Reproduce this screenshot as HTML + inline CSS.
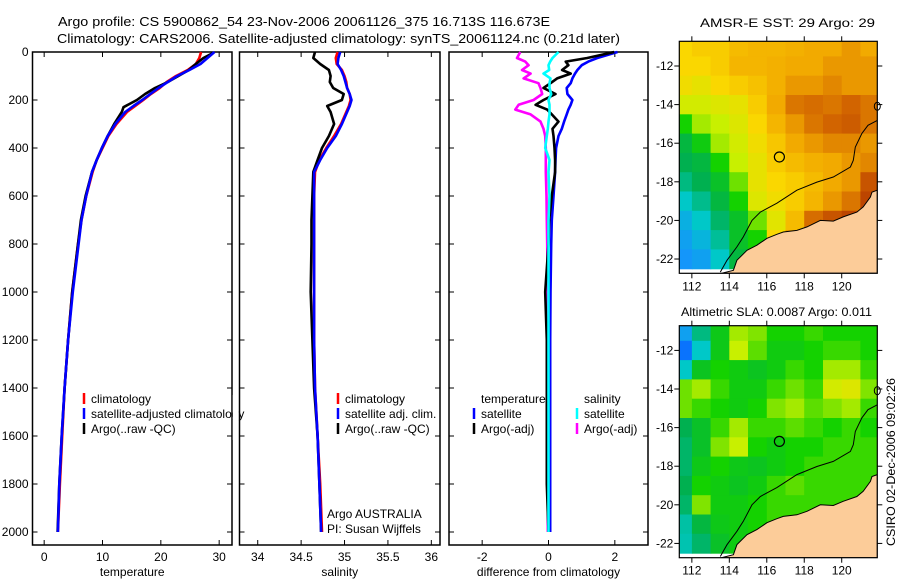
<!DOCTYPE html>
<html><head><meta charset="utf-8">
<style>
body{margin:0;background:#fff;}
svg{display:block;font-family:"Liberation Sans",sans-serif;}
text{font-size:12px;fill:#000;}
</style></head>
<body>
<svg id="fig" width="900" height="580" viewBox="0 0 900 580" xmlns="http://www.w3.org/2000/svg">
<text x="58" y="26" textLength="492" lengthAdjust="spacingAndGlyphs" style="font-size:13px">Argo profile: CS 5900862_54 23-Nov-2006 20061126_375 16.713S 116.673E</text>
<text x="57" y="43" textLength="563" lengthAdjust="spacingAndGlyphs" style="font-size:13px">Climatology: CARS2006. Satellite-adjusted climatology: synTS_20061124.nc (0.21d later)</text>
<text x="700" y="27" textLength="175" lengthAdjust="spacingAndGlyphs">AMSR-E SST: 29 Argo: 29</text>
<text x="681" y="316" textLength="191" lengthAdjust="spacingAndGlyphs">Altimetric SLA: 0.0087 Argo: 0.011</text>
<text transform="translate(895,462) rotate(-90)" text-anchor="middle" textLength="168" lengthAdjust="spacingAndGlyphs">CSIRO 02-Dec-2006 09:02:26</text>
<g id="plots"></g>
</svg>
<script>
// ---------- profile data ----------
const depthT = [0,25,50,75,100,125,150,175,200,225,250,300,350,400,450,500,600,700,800,1000,1200,1400,1600,1800,2000];
const tempClim = [26.9,26.6,26.0,24.6,22.6,21.0,19.8,18.3,17.0,15.6,14.2,12.4,11.0,10.0,9.0,8.3,7.2,6.4,5.8,4.8,4.1,3.5,3.1,2.7,2.35];
const tempSat  = [29.2,28.0,26.8,24.9,22.8,21.2,19.6,18.2,16.8,15.3,13.9,12.2,10.9,9.9,9.0,8.2,7.2,6.4,5.9,4.9,4.1,3.5,3.0,2.6,2.35];
const depthA = [5,25,50,75,100,125,150,175,200,230,250,300,350,400,450,500,600,700,800,1000,1200,1400,1600,1800,2000];
const tempArgo = [28.9,27.3,26.0,24.8,23.0,21.2,19.0,17.3,15.9,13.6,13.3,12.0,10.9,9.9,9.0,8.2,7.1,6.3,5.8,4.8,4.1,3.5,3.0,2.6,2.3];
const salClim = [34.92,34.90,34.91,34.97,35.00,35.02,35.03,35.06,35.07,35.05,35.02,34.96,34.88,34.79,34.71,34.66,34.65,34.65,34.65,34.65,34.65,34.66,34.69,34.72,34.74];
const salSat  = [34.95,34.93,34.92,34.96,34.99,35.01,35.03,35.06,35.08,35.06,35.03,34.97,34.90,34.80,34.72,34.65,34.65,34.65,34.65,34.65,34.65,34.66,34.69,34.71,34.73];
const salArgo = [34.66,34.64,34.72,34.82,34.84,34.83,34.87,34.99,34.97,34.80,34.84,34.88,34.82,34.74,34.69,34.64,34.63,34.62,34.62,34.61,34.63,34.65,34.69,34.71,34.73];
const depthD = [0,25,40,55,75,90,110,130,150,175,200,220,240,260,290,320,350,400,450,500,600,700,800,1000,1200,1400,1600,1800,2000];
const diffTSat  = [2.08,1.47,1.2,1.0,0.87,0.8,0.72,0.67,0.55,0.57,0.72,0.67,0.6,0.55,0.47,0.4,0.3,0.23,0.21,0.2,0.15,0.1,0.08,0.06,0.05,0.05,0.05,0.05,0.05];
const diffTArgo = [1.98,1.17,0.52,0.6,0.41,0.67,0.26,0.06,-0.15,0.21,-0.15,-0.39,-0.04,0.1,0.3,0.12,0.15,0.18,0.2,0.2,0.1,0.02,0.0,-0.1,-0.05,-0.05,-0.05,-0.05,0.0];
const diffSSat  = [0.3,0.12,0.05,0.0,0.02,-0.15,0.06,0.03,0.03,0.08,0.0,0.03,0.03,0.03,0.0,-0.02,-0.05,-0.1,0.03,0.0,0.03,0.0,0.0,0.0,0.0,0.0,0.0,0.0,0.0];
const diffSArgo = [-0.85,-0.95,-0.7,-0.6,-0.8,-0.54,-0.75,-0.3,-0.24,-0.19,-0.45,-0.9,-1.0,-0.54,-0.24,-0.15,-0.1,-0.08,-0.08,-0.08,-0.06,-0.05,-0.04,-0.02,-0.02,-0.02,-0.02,-0.02,-0.02];
const depthTicks = [0,200,400,600,800,1000,1200,1400,1600,1800,2000];
const tempTicks = [0,10,20,30];
const salTicks = [34,34.5,35,35.5,36];
const diffTicks = [-2,0,2];
// ---------- map data (1-degree cells, rows lat -11..-22, cols lon 111.5..121.5) ----------
const mapLats = [-11,-12,-13,-14,-15,-16,-17,-18,-19,-20,-21,-22];
const mapLons = [111.5,112.5,113.5,114.5,115.5,116.5,117.5,118.5,119.5,120.5,121.5];
const sstGrid = [
[0.70,0.72,0.72,0.75,0.76,0.76,0.77,0.78,0.78,0.80,0.78],
[0.70,0.70,0.72,0.76,0.76,0.77,0.78,0.78,0.80,0.80,0.80],
[0.68,0.66,0.70,0.72,0.74,0.77,0.80,0.80,0.82,0.80,0.80],
[0.62,0.62,0.64,0.66,0.72,0.78,0.84,0.85,0.84,0.86,0.84],
[0.50,0.58,0.60,0.64,0.70,0.76,0.80,0.84,0.86,0.87,0.84],
[0.42,0.48,0.58,0.62,0.68,0.73,0.78,0.80,0.82,0.82,0.80],
[0.40,0.42,0.50,0.60,0.66,0.72,0.75,0.77,0.78,0.80,0.82],
[0.36,0.40,0.45,0.55,0.66,0.70,0.72,0.75,0.78,0.80,0.88],
[0.30,0.35,0.42,0.50,0.64,0.68,0.72,0.76,0.80,0.84,0.90],
[0.25,0.30,0.38,0.45,0.55,0.65,0.75,0.85,0.88,0.90,0.90],
[0.22,0.26,0.34,0.45,0.50,0.70,0.80,0.88,0.90,0.90,0.90],
[0.20,0.22,0.30,0.42,0.50,0.70,0.80,0.88,0.90,0.90,0.90]];
const slaGrid = [
[0.22,0.36,0.47,0.58,0.56,0.50,0.50,0.52,0.50,0.50,0.50],
[0.15,0.30,0.47,0.60,0.54,0.48,0.48,0.50,0.52,0.52,0.50],
[0.30,0.46,0.50,0.48,0.46,0.48,0.52,0.50,0.58,0.58,0.52],
[0.55,0.58,0.52,0.48,0.48,0.52,0.55,0.52,0.62,0.64,0.56],
[0.55,0.52,0.50,0.48,0.50,0.56,0.58,0.54,0.56,0.58,0.52],
[0.40,0.45,0.52,0.58,0.52,0.52,0.54,0.52,0.50,0.52,0.50],
[0.38,0.45,0.56,0.60,0.50,0.48,0.50,0.50,0.52,0.52,0.52],
[0.38,0.47,0.50,0.47,0.46,0.48,0.50,0.52,0.52,0.52,0.52],
[0.40,0.50,0.48,0.46,0.48,0.52,0.54,0.52,0.52,0.52,0.52],
[0.38,0.56,0.48,0.48,0.50,0.52,0.52,0.52,0.52,0.52,0.52],
[0.33,0.42,0.47,0.48,0.50,0.52,0.52,0.52,0.52,0.52,0.52],
[0.32,0.38,0.45,0.48,0.50,0.52,0.52,0.52,0.52,0.52,0.52]];
const lonTicks = [112,114,116,118,120];
const latTicks = [-12,-14,-16,-18,-20,-22];
const argoLon = 116.673, argoLat = -16.713;

const NS = "http://www.w3.org/2000/svg";
const root = document.getElementById('plots');
function mk(tag, attrs, parent){const e=document.createElementNS(NS,tag);for(const k in attrs)e.setAttribute(k,attrs[k]);(parent||root).appendChild(e);return e;}

const Y0=52, Y1=545;
const yD = d => Y0 + d*0.24;

function panel(name, x0, x1, vmin, vmax, ticks, label, showY){
  const xs = v => x0 + (v-vmin)/(vmax-vmin)*(x1-x0);
  const g = mk('g',{});
  
  
  const r = mk('rect',{x:x0,y:Y0,width:x1-x0,height:Y1-Y0,fill:'none',stroke:'#000','stroke-width':1.5},g);
  
  
  ticks.forEach(t=>{
    const x=xs(t);
    mk('line',{x1:x,x2:x,y1:Y0,y2:Y0+5,stroke:'#000'},g);
    mk('line',{x1:x,x2:x,y1:Y1,y2:Y1-5,stroke:'#000'},g);
    const tl = mk('text',{x:x,y:Y1+16,'text-anchor':'middle'},g);
    tl.textContent = String(t);
    
    
  });
  depthTicks.forEach(d=>{
    const y=yD(d);
    mk('line',{x1:x0,x2:x0+5,y1:y,y2:y,stroke:'#000'},g);
    mk('line',{x1:x1,x2:x1-5,y1:y,y2:y,stroke:'#000'},g);
    if(showY){
      const tl = mk('text',{x:x0-4,y:y+4,'text-anchor':'end'},g);
      tl.textContent = String(d);
      
      
    }
  });
  const xl = mk('text',{x:(x0+x1)/2,y:576,'text-anchor':'middle'},g);
  xl.textContent = label;
  
  
  return {g, xs};
}
function line(p, depths, vals, color, name){
  const d = vals.map((v,i)=>(i?'L':'M')+p.xs(v).toFixed(1)+','+yD(depths[i]).toFixed(1)).join('');
  const e = mk('path',{d:d,fill:'none',stroke:color,'stroke-width':2.6,'stroke-linejoin':'round'},p.g);
  
  
}
function legendRow(g, bx, tx, y, color, txt, name){
  if(color){mk('line',{x1:bx,x2:bx,y1:y-10,y2:y+1,stroke:color,'stroke-width':2.5},g);}
  const t = mk('text',{x:tx,y:y},g);
  t.textContent = txt;
  
  
}

// temperature panel
const pT = panel('temperature-panel', 32.5, 232, -2, 32.2, tempTicks, 'temperature', true);
line(pT, depthT, tempClim, '#f00', 'temperature-climatology-line');
line(pT, depthA, tempArgo, '#000', 'temperature-argo-line');
line(pT, depthT, tempSat, '#00f', 'temperature-satellite-line');
legendRow(pT.g, 84, 91, 403, '#f00', 'climatology', 'legend-climatology');
legendRow(pT.g, 84, 91, 418, '#00f', 'satellite-adjusted climatology', 'legend-satellite-adjusted');
legendRow(pT.g, 84, 91, 433, '#000', 'Argo(..raw -QC)', 'legend-argo');
mk('rect',{x:232.8,y:395,width:6,height:45,fill:'#fff'});

// salinity panel
const pS = panel('salinity-panel', 239.5, 440, 33.79, 36.1, salTicks, 'salinity', false);
line(pS, depthT, salClim, '#f00', 'salinity-climatology-line');
line(pS, depthT, salArgo, '#000', 'salinity-argo-line');
line(pS, depthT, salSat, '#00f', 'salinity-satellite-line');
legendRow(pS.g, 338, 345, 403, '#f00', 'climatology', 'legend-sal-climatology');
legendRow(pS.g, 338, 345, 418, '#00f', 'satellite adj. clim.', 'legend-sal-satellite');
legendRow(pS.g, 338, 345, 433, '#000', 'Argo(..raw -QC)', 'legend-sal-argo');
legendRow(pS.g, 0, 327, 518, null, 'Argo AUSTRALIA', 'argo-australia-label');
legendRow(pS.g, 0, 327, 533, null, 'PI: Susan Wijffels', 'pi-label');

// difference panel
const pD = panel('difference-panel', 449, 648, -3.0, 3.0, diffTicks, 'difference from climatology', false);
line(pD, depthD, diffTSat, '#00f', 'diff-temperature-satellite-line');
line(pD, depthD, diffSArgo, '#f0f', 'diff-salinity-argo-line');
line(pD, depthD, diffTArgo, '#000', 'diff-temperature-argo-line');
line(pD, depthD, diffSSat, '#0ff', 'diff-salinity-satellite-line');
legendRow(pD.g, 0, 481, 403, null, 'temperature', 'legend-diff-temperature-header');
legendRow(pD.g, 0, 584, 403, null, 'salinity', 'legend-diff-salinity-header');
legendRow(pD.g, 474, 481, 418, '#00f', 'satellite', 'legend-diff-temp-satellite');
legendRow(pD.g, 474, 481, 433, '#000', 'Argo(-adj)', 'legend-diff-temp-argo');
legendRow(pD.g, 577, 584, 418, '#0ff', 'satellite', 'legend-diff-sal-satellite');
legendRow(pD.g, 577, 584, 433, '#f0f', 'Argo(-adj)', 'legend-diff-sal-argo');

// ---------- maps ----------
const stops = [[0.10,[0,80,255]],[0.20,[20,150,250]],[0.30,[0,200,200]],[0.40,[0,176,80]],[0.50,[20,210,0]],[0.60,[200,240,0]],[0.70,[250,215,0]],[0.78,[242,170,0]],[0.86,[210,100,0]],[0.95,[160,30,0]]];
function cmap(v){
  if(v<=stops[0][0]) return 'rgb('+stops[0][1]+')';
  for(let i=1;i<stops.length;i++){
    if(v<=stops[i][0]){const a=stops[i-1],b=stops[i],f=(v-a[0])/(b[0]-a[0]);
      return 'rgb('+a[1].map((c,k)=>Math.round(c+(b[1][k]-c)*f)).join(',')+')';}
  }
  return 'rgb('+stops[stops.length-1][1]+')';
}
const land = [[1,0.642],[0.973,0.650],[0.965,0.671],[0.929,0.714],[0.897,0.736],[0.828,0.757],[0.778,0.775],[0.712,0.772],[0.645,0.800],[0.594,0.815],[0.525,0.822],[0.493,0.832],[0.443,0.849],[0.392,0.879],[0.342,0.901],[0.291,0.944],[0.273,0.987],[0.212,1],[1,1]];
const isobath = [[1,0.341],[0.953,0.362],[0.922,0.397],[0.889,0.456],[0.879,0.513],[0.864,0.542],[0.778,0.585],[0.695,0.607],[0.594,0.642],[0.493,0.698],[0.409,0.736],[0.367,0.772],[0.323,0.843],[0.291,0.886],[0.241,0.944],[0.207,0.995]];
function drawMap(name, grid, mx0, my0, showLonLabels){
  const W=198, H=232, LON0=111.33, LON1=121.9, LAT0=-10.72, LAT1=-22.74;
  const px = lon => mx0 + (lon-LON0)/(LON1-LON0)*W;
  const py = lat => my0 + (lat-LAT0)/(LAT1-LAT0)*H;
  const g = mk('g',{});
  
  
  const cid = name+'-clip';
  const cp = mk('clipPath',{id:cid},g);
  mk('rect',{x:mx0,y:my0,width:W,height:H},cp);
  const cells = mk('g',{'clip-path':'url(#'+cid+')'},g);
  grid.forEach((row,i)=>row.forEach((v,j)=>{
    const x=px(mapLons[j]-0.5), y=py(mapLats[i]+0.5);
    const c = mk('rect',{x:x.toFixed(1),y:y.toFixed(1),width:(px(mapLons[j]+0.5)-x+0.6).toFixed(1),height:(py(mapLats[i]-0.5)-y+0.6).toFixed(1),fill:cmap(v)},cells);
    
    
  }));
  const lp = mk('polygon',{points:land.map(p=>(mx0+p[0]*W).toFixed(1)+','+(my0+p[1]*H).toFixed(1)).join(' '),fill:'#fccc99',stroke:'#000','stroke-width':1},cells);
  
  
  const ib = mk('polyline',{points:isobath.map(p=>(mx0+p[0]*W).toFixed(1)+','+(my0+p[1]*H).toFixed(1)).join(' '),fill:'none',stroke:'#000','stroke-width':1},cells);
  
  
  mk('ellipse',{cx:mx0+W,cy:my0+0.28*H,rx:3,ry:4,fill:'none',stroke:'#000'},g);
  const fr = mk('rect',{x:mx0,y:my0,width:W,height:H,fill:'none',stroke:'#000','stroke-width':1.2},g);
  
  
  const ac = mk('circle',{cx:px(argoLon),cy:py(argoLat),r:5,fill:'none',stroke:'#000','stroke-width':1.2},g);
  
  
  lonTicks.forEach(t=>{
    const x=px(t);
    mk('line',{x1:x,x2:x,y1:my0,y2:my0-5,stroke:'#000'},g);
    mk('line',{x1:x,x2:x,y1:my0+H,y2:my0+H+5,stroke:'#000'},g);
    const tl = mk('text',{x:x,y:my0+H+17,'text-anchor':'middle'},g);
    tl.textContent = String(t);
    
    
  });
  latTicks.forEach(t=>{
    const y=py(t);
    mk('line',{x1:mx0,x2:mx0-5,y1:y,y2:y,stroke:'#000'},g);
    mk('line',{x1:mx0+W,x2:mx0+W+5,y1:y,y2:y,stroke:'#000'},g);
    const tl = mk('text',{x:mx0-6,y:y+4,'text-anchor':'end'},g);
    tl.textContent = String(t);
    
    
  });
}
drawMap('sst-map', sstGrid, 679.3, 41.3, true);
drawMap('sla-map', slaGrid, 679.3, 325.7, true);
</script>
</body></html>
